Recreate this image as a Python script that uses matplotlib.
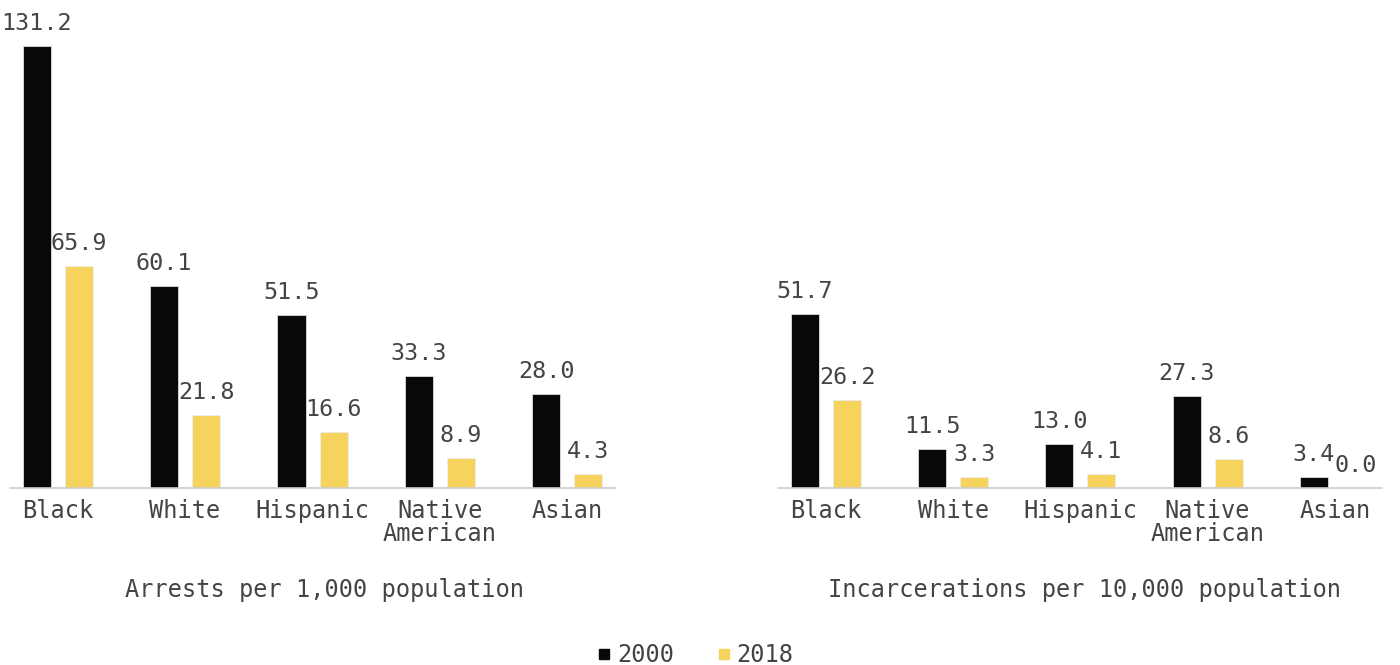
import numpy as np
import matplotlib.pyplot as plt
from matplotlib.lines import Line2D

# Datos
categorias = ['Black', 'White', 'Hispanic', 'Native\nAmerican', 'Asian']
arrestos_2000 = [131.2, 60.1, 51.5, 33.3, 28.0]
arrestos_2018 = [65.9, 21.8, 16.6, 8.9, 4.3]
encarcel_2000 = [51.7, 11.5, 13.0, 27.3, 3.4]
encarcel_2018 = [26.2, 3.3, 4.1, 8.6, 0.0]
titulos = ['Arrests per 1,000 population', 'Incarcerations per 10,000 population']

c_2000 = '#080808'
c_2018 = '#f6d35c'
c_texto = '#444444'
plt.rcParams['font.family'] = ['DejaVu Sans Mono']

fig = plt.figure(figsize=(14, 6.65), dpi=100)
ax1 = fig.add_axes([0.007, 0.266, 0.432, 0.709])
ax2 = fig.add_axes([0.556, 0.266, 0.431, 0.709])

x = np.arange(len(categorias))
ancho = 0.22
desp = 0.165

for ax, v00, v18, titulo, xl in [(ax1, arrestos_2000, arrestos_2018, titulos[0], 0.52),
                                 (ax2, encarcel_2000, encarcel_2018, titulos[1], 0.508)]:
    b1 = ax.bar(x - desp, v00, ancho, color=c_2000, edgecolor='#dddddd', linewidth=0.6)
    b2 = ax.bar(x + desp, v18, ancho, color=c_2018, edgecolor='#eeeeee', linewidth=0.6)
    for barras, vals in [(b1, v00), (b2, v18)]:
        for b, v in zip(barras, vals):
            ax.annotate('{:.1f}'.format(v), (b.get_x() + b.get_width() / 2, v),
                        xytext=(0, 8), textcoords='offset points', ha='center', va='bottom',
                        fontsize=16.8, color=c_texto)
    ax.set_xlim(-0.375, 4.37)
    ax.set_ylim(0, 140)
    ax.set_xticks(x)
    ax.set_xticklabels(categorias, fontsize=17, color=c_texto, linespacing=0.95)
    ax.tick_params(axis='x', length=0, pad=8)
    ax.set_yticks([])
    for s in ['top', 'right', 'left']:
        ax.spines[s].set_visible(False)
    ax.spines['bottom'].set_color('#cccccc')
    ax.spines['bottom'].set_linewidth(1.2)
    ax.set_xlabel(titulo, fontsize=17, color=c_texto)
    ax.xaxis.set_label_coords(xl, -0.19)

handles = [Line2D([], [], marker='s', linestyle='', color=c_2000, markersize=7.5),
           Line2D([], [], marker='s', linestyle='', color=c_2018, markersize=7.5)]
fig.legend(handles, ['2000', '2018'], loc='lower center', bbox_to_anchor=(0.495, -0.035), ncol=2,
           frameon=False, fontsize=17, labelcolor=c_texto, handletextpad=0.05,
           columnspacing=1.6, handlelength=1.0)

fig.savefig('out.png', dpi=100)
